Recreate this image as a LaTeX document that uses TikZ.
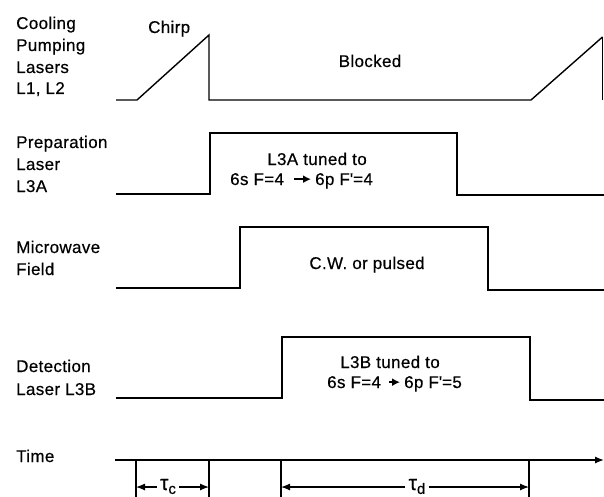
\documentclass[tikz,border=0pt]{standalone}
\usepackage{fontspec}
\setmainfont[FakeBold=0.4,LetterSpace=2]{Liberation Sans}
\usetikzlibrary{arrows.meta}
\begin{document}
\begin{tikzpicture}[x=1pt,y=-1pt,
  lbl/.style={anchor=base west, inner sep=0pt, font=\fontsize{17}{21}\selectfont},
  txt/.style={anchor=base, inner sep=0pt, font=\fontsize{17}{21}\selectfont},
  txw/.style={anchor=base west, inner sep=0pt, font=\fontsize{17}{21}\selectfont},
  sig/.style={line width=1.4pt, line join=miter},
  fat/.style={line width=2pt, -{Latex[length=8pt,width=8pt]}},
  dim/.style={line width=1.2pt, -{Latex[length=9pt,width=7pt]}},
  tau/.style={inner sep=3pt, anchor=base, font=\fontsize{21}{21}\selectfont}]
\useasboundingbox (0,0) rectangle (604,497);

% labels
\node[lbl] (c1) at (16,29) {Cooling};
\node[lbl] (c2) at (16,51) {Pumping};
\node[lbl] (c3) at (16,73) {Lasers};
\node[lbl] (c4) at (16,94) {L1, L2};
\node[lbl] (p1) at (16,148) {Preparation};
\node[lbl] (p2) at (16,170) {Laser};
\node[lbl] (p3) at (16,192) {L3A};
\node[lbl] (m1) at (16,253) {Microwave};
\node[lbl] (m2) at (16,275) {Field};
\node[lbl] (d1) at (16,372) {Detection};
\node[lbl] (d2) at (16,395) {Laser L3B};
\node[lbl] (tm) at (16,462) {Time};

% cooling / pumping lasers
\draw[sig] (116,100) -- (137,100) -- (209,35) -- (209,100) -- (531,100) -- (602.5,37);
\draw[line width=0.7pt] (602.5,37) -- (602.5,100);
\node[txw] (chirp) at (148,33) {Chirp};
\node[txt] (blk) at (370,67) {Blocked};

% preparation laser
\draw[sig] (116,194) -- (210,194) -- (210,133) -- (457,133) -- (457,195) -- (604,195);
\node[txt] (pa) at (317,165) {L3A tuned to};
\node[txw] (pb) at (230,185) {6s F=4};
\node[txw] (pc) at (315,185) {6p F\textquotesingle=4};
\draw[fat] ([xshift=10pt]pb.east) -- ([xshift=-4pt]pb.east -| pc.west);

% microwave field
\draw[sig] (116,288) -- (240,288) -- (240,227) -- (488,227) -- (488,290) -- (604,290);
\node[txt] (cw) at (367,269) {C.W. or pulsed};

% detection laser
\draw[sig] (116,398) -- (282,398) -- (282,337) -- (530,337) -- (530,400) -- (604,400);
\node[txt] (da) at (390,368) {L3B tuned to};
\node[txw] (db) at (327,388) {6s F=4};
\node[txw] (dc) at (404,388) {6p F\textquotesingle=5};
\draw[fat] ([xshift=8pt]db.east) -- ([xshift=-4pt]db.east -| dc.west);

% time axis
\coordinate (t0) at (115,460);
\coordinate (tend) at (604,460);
\draw[line width=1.3pt, -{Latex[length=9pt,width=7pt]}] (t0) -- (tend);
\foreach \n/\x in {a/136,b/209,c/281,d/529}{
  \coordinate (k\n) at (\x,460);
  \coordinate (q\n) at (\x,497);
  \coordinate (r\n) at (\x,487);
  \draw[line width=1.2pt] (k\n) -- (q\n);
}
\node[tau] (tc) at (168,490) {τ\raisebox{-0.35ex}{\fontsize{15}{15}\selectfont c}};
\node[tau] (td) at (417,490) {τ\raisebox{-0.35ex}{\fontsize{15}{15}\selectfont d}};
\draw[dim] (tc.west |- ra) -- (ra);
\draw[dim] (tc.east |- rb) -- (rb);
\draw[dim] (td.west |- rc) -- (rc);
\draw[dim] (td.east |- rd) -- (rd);
\end{tikzpicture}
\end{document}
